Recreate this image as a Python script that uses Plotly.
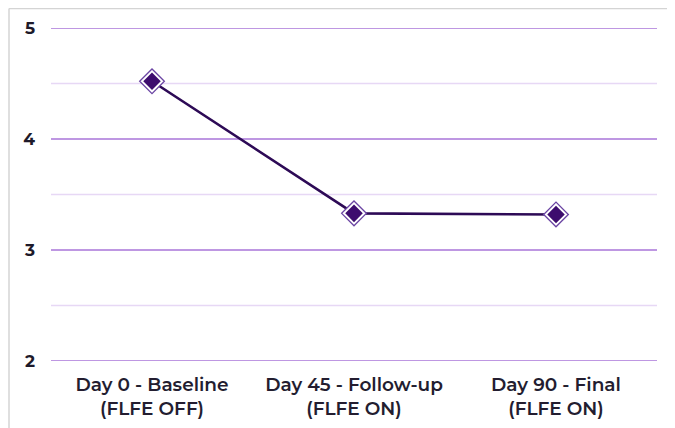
import plotly.graph_objects as go

categories = ["Day 0 - Baseline<br>(FLFE OFF)", "Day 45 - Follow-up<br>(FLFE ON)", "Day 90 - Final<br>(FLFE ON)"]
values = [4.52, 3.33, 3.32]
major_ticks = [2, 3, 4, 5]
minor_ticks = [2.5, 3.5, 4.5]

# page body has an 8px default margin; figure coords = screen coords - 8
OFF = 8
W, H = 675 - OFF, 428 - OFF
L, T = 51 - OFF, 28 - OFF
R = W - (657 - OFF)
B = H - (361 - OFF)
pw, ph = W - L - R, H - T - B

fig = go.Figure()
fig.add_trace(go.Scatter(
    x=categories, y=values, mode="lines",
    line=dict(color="#2d0a56", width=2.6), hoverinfo="skip", showlegend=False))
fig.add_trace(go.Scatter(
    x=categories, y=values, mode="markers",
    marker=dict(symbol="diamond", size=19, color="white",
                line=dict(color="#6b45a3", width=1.3)),
    showlegend=False))
fig.add_trace(go.Scatter(
    x=categories, y=values, mode="markers",
    marker=dict(symbol="diamond", size=13.5, color="#3d0c6e",
                line=dict(width=0)),
    showlegend=False))

def px_x(p):
    return (p - OFF - L) / pw

def px_y(p):
    return (H - B - (p - OFF)) / ph

border = dict(color="#d4d4d4", width=1.5)
shapes = [
    dict(type="line", xref="paper", yref="paper", x0=px_x(9), x1=px_x(690),
         y0=px_y(8.5), y1=px_y(8.5), line=border, layer="below"),
    dict(type="line", xref="paper", yref="paper", x0=px_x(9), x1=px_x(9),
         y0=px_y(8.5), y1=px_y(460), line=border, layer="below"),
]
for v in minor_ticks:
    shapes.append(dict(type="line", xref="paper", yref="y", x0=0, x1=1, y0=v, y1=v,
                       line=dict(color="#e7d8f5", width=1.5), layer="below"))
for v in major_ticks:
    shapes.append(dict(type="line", xref="paper", yref="y", x0=0, x1=1, y0=v, y1=v,
                       line=dict(color="#a874d8", width=1.5), layer="below"))

fig.update_layout(
    width=W, height=H,
    margin=dict(l=L, r=R, t=T, b=B),
    plot_bgcolor="white", paper_bgcolor="white",
    shapes=shapes,
    font=dict(family="Montserrat, Open Sans, sans-serif", color="#1e1a2a"),
    xaxis=dict(type="category", range=[-0.5, 2.5], showgrid=False, zeroline=False,
               showline=False, ticks="", ticklabelstandoff=10, automargin=False,
               tickfont=dict(size=18.5, color="#231d30", weight=600)),
    yaxis=dict(range=[2, 5], tickvals=major_ticks, showgrid=False,
               zeroline=False, showline=False, automargin=False,
               ticks="", ticklabelstandoff=15,
               tickfont=dict(size=17, color="#1e1a2a", weight=700)),
)

fig.write_html("out.html")
